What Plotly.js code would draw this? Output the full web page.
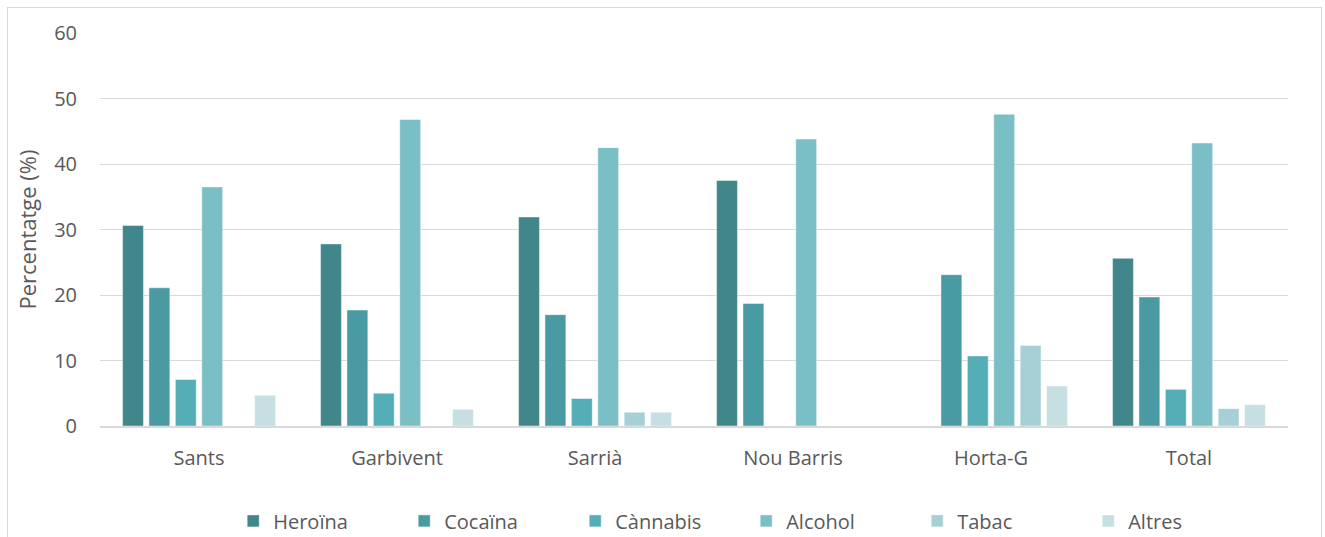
<!DOCTYPE html>
<html>
<head>
<meta charset="utf-8">
<script src="https://cdn.plot.ly/plotly-3.0.1.min.js"></script>
<style>
  html, body { margin: 0; padding: 0; background: #ffffff; overflow: hidden; }
  #frame { position: absolute; left: 7px; top: 7px; width: 1315px; height: 600px;
           border: 1px solid #d9d9d9; box-sizing: border-box; pointer-events: none; }
  #chart { position: absolute; left: 0; top: 0; width: 1325px; height: 537px; }
</style>
</head>
<body>
<div id="chart"></div>
<div id="frame"></div>
<script>
// Districts on the x axis
const districts = ["Sants", "Garbivent", "Sarrià", "Nou Barris", "Horta-G", "Total"];

// Substance series (percentage per district)
const heroina  = [30.6, 27.8, 31.9, 37.5, 0,    25.6];
const cocaina  = [21.1, 17.7, 17.0, 18.7, 23.1, 19.7];
const cannabis = [7.1,  5.0,  4.2,  0,    10.7, 5.6];
const alcohol  = [36.5, 46.8, 42.5, 43.8, 47.6, 43.2];
const tabac    = [0,    0,    2.1,  0,    12.3, 2.65];
const altres   = [4.7,  2.55, 2.1,  0,    6.1,  3.25];

const seriesNames = ["Heroïna", "Cocaïna", "Cànnabis", "Alcohol", "Tabac", "Altres"];
const seriesValues = [heroina, cocaina, cannabis, alcohol, tabac, altres];
const seriesColors = ["#40868a", "#4a9aa3", "#55adb6", "#7bbfc6", "#a6d0d6", "#c5dfe3"];

const traces = seriesNames.map((name, i) => ({
  type: "bar",
  name: name,
  x: districts,
  y: seriesValues[i],
  marker: { color: seriesColors[i], line: { color: "rgba(255,255,255,0.55)", width: 0.8 } },
  hoverinfo: "x+y+name"
}));

const textColor = "#595959";
const fontFamily = "'Open Sans', 'Noto Sans', sans-serif";

const layout = {
  width: 1325,
  height: 537,
  margin: { l: 100, r: 37, t: 33, b: 111, autoexpand: false },
  paper_bgcolor: "rgba(0,0,0,0)",
  plot_bgcolor: "#ffffff",
  font: { family: fontFamily, size: 20, color: textColor },
  barmode: "group",
  bargap: 0.2,
  bargroupgap: 0.21,
  showlegend: true,
  legend: {
    orientation: "h",
    xref: "container", yref: "container",
    x: 0.176, xanchor: "left",
    y: 0.03, yanchor: "middle",
    entrywidth: 126, entrywidthmode: "pixels",
    font: { family: fontFamily, size: 20, color: textColor },
    traceorder: "normal"
  },
  xaxis: {
    type: "category",
    showgrid: false,
    showline: true,
    linecolor: "#d9d9d9",
    linewidth: 1.5,
    ticks: "",
    ticklabelstandoff: 13,
    tickfont: { family: fontFamily, size: 20, color: textColor },
    fixedrange: true
  },
  yaxis: {
    range: [0, 60],
    dtick: 10,
    tick0: 0,
    showgrid: true,
    gridcolor: "#d9d9d9",
    gridwidth: 1,
    zeroline: false,
    showline: false,
    ticks: "",
    ticklabelstandoff: 22,
    tickfont: { family: fontFamily, size: 20, color: textColor },
    title: { text: "Percentatge (%)", standoff: 11, font: { family: fontFamily, size: 22, color: textColor } },
    automargin: false,
    fixedrange: true
  }
};

Plotly.newPlot("chart", traces, layout, { displayModeBar: false, staticPlot: true });
</script>
</body>
</html>
